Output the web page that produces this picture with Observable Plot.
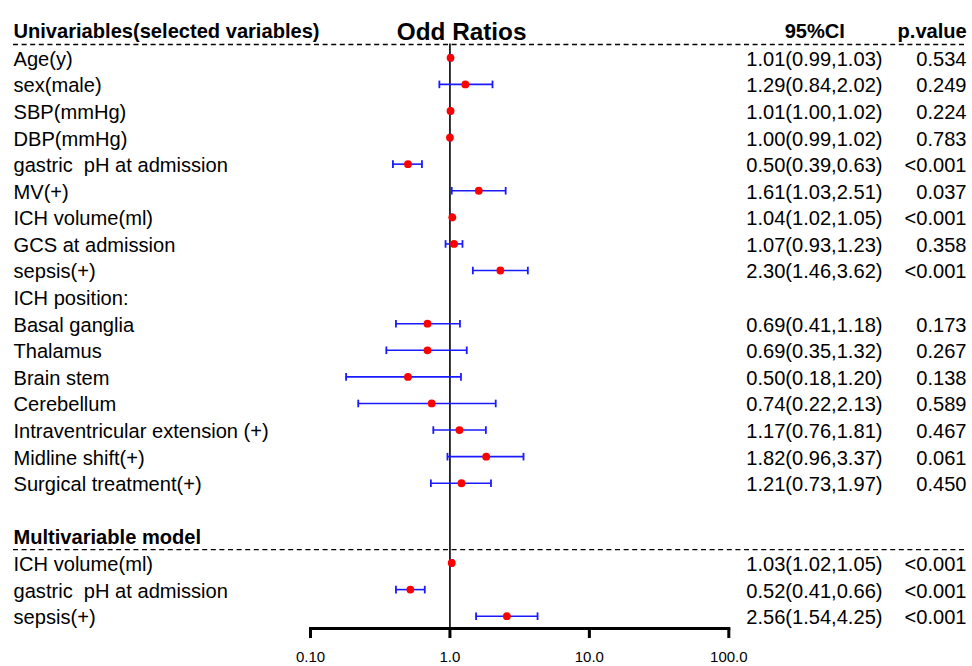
<!DOCTYPE html>
<html>
<head>
<meta charset="utf-8">
<script src="https://cdn.jsdelivr.net/npm/d3@7"></script>
<script src="https://cdn.jsdelivr.net/npm/@observablehq/plot@0.6"></script>
<style>
  html, body { margin: 0; padding: 0; background: #fff; }
  svg text { white-space: pre; }
</style>
</head>
<body>
<div id="chart"></div>
<script>
// ---- data ----
const labels = ["Age(y)", "sex(male)", "SBP(mmHg)", "DBP(mmHg)", "gastric  pH at admission", "MV(+)",
  "ICH volume(ml)", "GCS at admission", "sepsis(+)", "ICH position:", "Basal ganglia", "Thalamus",
  "Brain stem", "Cerebellum", "Intraventricular extension (+)", "Midline shift(+)", "Surgical treatment(+)",
  "", "Multivariable model", "ICH volume(ml)", "gastric  pH at admission", "sepsis(+)"];
const orValues = [1.01, 1.29, 1.01, 1.00, 0.50, 1.61, 1.04, 1.07, 2.30, null, 0.69, 0.69, 0.50, 0.74, 1.17, 1.82, 1.21, null, null, 1.03, 0.52, 2.56];
const ciLow    = [0.99, 0.84, 1.00, 0.99, 0.39, 1.03, 1.02, 0.93, 1.46, null, 0.41, 0.35, 0.18, 0.22, 0.76, 0.96, 0.73, null, null, 1.02, 0.41, 1.54];
const ciHigh   = [1.03, 2.02, 1.02, 1.02, 0.63, 2.51, 1.05, 1.23, 3.62, null, 1.18, 1.32, 1.20, 2.13, 1.81, 3.37, 1.97, null, null, 1.05, 0.66, 4.25];
const pValues  = ["0.534", "0.249", "0.224", "0.783", "<0.001", "0.037", "<0.001", "0.358", "<0.001", "",
  "0.173", "0.267", "0.138", "0.589", "0.467", "0.061", "0.450", "", "", "<0.001", "<0.001", "<0.001"];
const boldRows = ["Multivariable model"];
const headerLeft = "Univariables(selected variables)";
const headerCI = "95%CI";
const headerP = "p.value";
const title = "Odd Ratios";
const tickValues = [0.1, 1, 10, 100];
const tickLabels = ["0.10", "1.0", "10.0", "100.0"];
const separatorRows = [-0.5, 18.5];

// ---- table ----
const rows = labels.map((label, i) => ({
  i, label, or: orValues[i], lo: ciLow[i], hi: ciHigh[i], p: pValues[i],
  ci: orValues[i] == null ? "" : `${orValues[i].toFixed(2)}(${ciLow[i].toFixed(2)},${ciHigh[i].toFixed(2)})`
}));
const est = rows.filter(d => d.or != null);
const plainRows = rows.filter(d => !boldRows.includes(d.label));
const strongRows = rows.filter(d => boldRows.includes(d.label));
const tickMap = new Map(tickValues.map((v, k) => [v, tickLabels[k]]));

const capSymbol = {
  draw(ctx, size) {
    const h = Math.sqrt(size / Math.PI);
    ctx.moveTo(0, -h);
    ctx.lineTo(0, h);
  }
};

const font = "'Liberation Sans', Arial, sans-serif";
const fs = 20.1;

const chart = Plot.plot({
  width: 972,
  height: 666,
  marginLeft: 310,
  marginRight: 243.7,
  marginTop: 43.5,
  marginBottom: 38,
  style: { fontFamily: font, background: "#fff", color: "#000" },
  x: { type: "log", domain: [0.1, 100] },
  y: { type: "linear", domain: [-1, 21], range: [30.7, 615.7], axis: null },
  marks: [
    Plot.ruleY(separatorRows, { y: d => d, stroke: "#000", strokeWidth: 1.3, strokeDasharray: "5,3.6", insetLeft: -297, insetRight: -239 }),
    Plot.ruleX([1], { stroke: "#000", strokeWidth: 1.6 }),
    Plot.frame({ anchor: "bottom", stroke: "#000", strokeWidth: 3 }),
    Plot.axisX({ ticks: tickValues, tickFormat: d => tickMap.get(d), tickSize: 10, tickPadding: 13, strokeWidth: 3, fontSize: 15, label: null, fill: "#000", stroke: "#000" }),
    Plot.ruleY(est, { x1: "lo", x2: "hi", y: "i", stroke: "#1a1aff", strokeWidth: 1.6 }),
    Plot.dot(est, { x: "lo", y: "i", symbol: capSymbol, r: 3.8, fill: "none", stroke: "#1a1aff", strokeWidth: 1.8 }),
    Plot.dot(est, { x: "hi", y: "i", symbol: capSymbol, r: 3.8, fill: "none", stroke: "#1a1aff", strokeWidth: 1.8 }),
    Plot.dot(est, { x: "or", y: "i", r: 3.9, fill: "#ff0000", stroke: null }),
    // left labels
    Plot.text(plainRows, { y: "i", text: "label", frameAnchor: "left", dx: -297, dy: 1.5, textAnchor: "start", fontSize: fs, fill: "#000" }),
    Plot.text(strongRows, { y: "i", text: "label", frameAnchor: "left", dx: -297, dy: 1.5, textAnchor: "start", fontSize: fs, fontWeight: "bold", fill: "#000" }),
    // CI column
    Plot.text(rows, { y: "i", text: "ci", frameAnchor: "right", dx: 153.7, dy: 1.5, textAnchor: "end", fontSize: fs, fill: "#000" }),
    // p column
    Plot.text(rows, { y: "i", text: "p", frameAnchor: "right", dx: 237.7, dy: 1.5, textAnchor: "end", fontSize: fs, fill: "#000" }),
    // header row
    Plot.text([headerLeft], { y: [-1], text: d => d, frameAnchor: "left", dx: -297, dy: 0.5, textAnchor: "start", fontSize: fs, fontWeight: "bold", fill: "#000" }),
    Plot.text([headerCI], { y: [-1], text: d => d, frameAnchor: "right", dx: 86, dy: 0.5, textAnchor: "middle", fontSize: fs, fontWeight: "bold", fill: "#000" }),
    Plot.text([headerP], { y: [-1], text: d => d, frameAnchor: "right", dx: 238, dy: 0.5, textAnchor: "end", fontSize: fs, fontWeight: "bold", fill: "#000" }),
    Plot.text([title], { text: d => d, frameAnchor: "top", dx: -58, dy: -21, textAnchor: "middle", fontSize: 24.3, fontWeight: "bold", fill: "#000" })
  ]
});
document.getElementById("chart").appendChild(chart);
</script>
</body>
</html>
